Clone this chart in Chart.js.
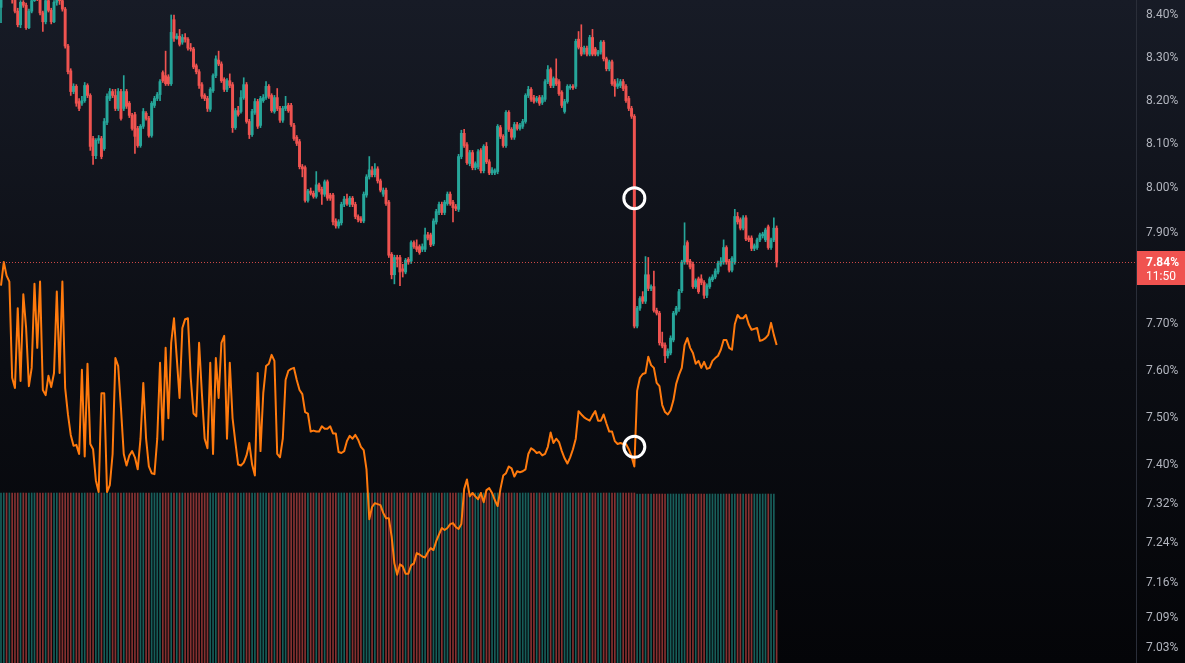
<!DOCTYPE html>
<html>
<head>
<meta charset="utf-8">
<script src="https://cdn.jsdelivr.net/npm/chart.js@4.4.1/dist/chart.umd.min.js"></script>
<style>
  html, body { margin: 0; padding: 0; background: #0c0e14; overflow: hidden; }
</style>
</head>
<body>
<canvas id="chart" width="1185" height="663"></canvas>
<script>
// Candles (yield, %), one per bar
const opens = [
  8.418, 8.441, 8.453, 8.444, 8.448, 8.439, 8.409, 8.377, 8.430, 8.423,
  8.370, 8.409, 8.434, 8.448, 8.441, 8.405, 8.384, 8.434, 8.411, 8.384,
  8.430, 8.439, 8.434, 8.414, 8.327, 8.269, 8.221, 8.233, 8.198, 8.194,
  8.200, 8.235, 8.212, 8.113, 8.074, 8.109, 8.113, 8.090, 8.150, 8.205,
  8.221, 8.212, 8.182, 8.221, 8.182, 8.221, 8.194, 8.166, 8.168, 8.136,
  8.097, 8.141, 8.171, 8.159, 8.120, 8.189, 8.205, 8.214, 8.265, 8.258,
  8.255, 8.239, 8.389, 8.345, 8.350, 8.336, 8.347, 8.343, 8.322, 8.320,
  8.281, 8.267, 8.237, 8.212, 8.205, 8.180, 8.223, 8.258, 8.294, 8.285,
  8.249, 8.226, 8.246, 8.237, 8.138, 8.177, 8.175, 8.207, 8.237, 8.152,
  8.122, 8.173, 8.198, 8.143, 8.200, 8.207, 8.233, 8.212, 8.175, 8.207,
  8.182, 8.155, 8.182, 8.189, 8.189, 8.143, 8.116, 8.106, 8.049, 8.047,
  7.973, 7.994, 7.989, 7.982, 8.008, 7.998, 7.987, 8.015, 7.985, 7.985,
  7.927, 7.916, 7.923, 7.964, 7.976, 7.964, 7.978, 7.964, 7.937, 7.932,
  7.927, 7.985, 8.026, 8.040, 8.031, 8.044, 8.017, 7.987, 7.996, 7.969,
  7.853, 7.808, 7.846, 7.846, 7.821, 7.814, 7.842, 7.838, 7.879, 7.870,
  7.870, 7.864, 7.864, 7.896, 7.896, 7.876, 7.925, 7.946, 7.964, 7.946,
  7.966, 7.987, 7.969, 7.959, 7.953, 8.072, 8.125, 8.099, 8.056, 8.081,
  8.047, 8.049, 8.086, 8.040, 8.095, 8.060, 8.035, 8.035, 8.038, 8.138,
  8.118, 8.097, 8.173, 8.134, 8.116, 8.145, 8.136, 8.141, 8.152, 8.212,
  8.226, 8.207, 8.200, 8.207, 8.196, 8.203, 8.244, 8.272, 8.235, 8.251,
  8.244, 8.219, 8.175, 8.198, 8.230, 8.233, 8.233, 8.343, 8.324, 8.313,
  8.322, 8.308, 8.347, 8.320, 8.308, 8.313, 8.336, 8.297, 8.274, 8.290,
  8.244, 8.233, 8.235, 8.244, 8.233, 8.205, 8.182, 8.164, 7.696, 7.735,
  7.760, 7.750, 7.808, 7.778, 7.782, 7.730, 7.724, 7.660, 7.655, 7.632,
  7.638, 7.666, 7.724, 7.733, 7.773, 7.836, 7.879, 7.838, 7.831, 7.782,
  7.799, 7.799, 7.791, 7.763, 7.782, 7.797, 7.803, 7.814, 7.831, 7.836,
  7.868, 7.838, 7.818, 7.836, 7.937, 7.930, 7.911, 7.934, 7.889, 7.889,
  7.866, 7.868, 7.885, 7.894, 7.885, 7.914, 7.868, 7.885, 7.911
];
const highs = [
  8.446, 8.462, 8.462, 8.457, 8.455, 8.444, 8.416, 8.434, 8.434, 8.428,
  8.414, 8.441, 8.455, 8.457, 8.446, 8.409, 8.441, 8.441, 8.416, 8.434,
  8.446, 8.444, 8.439, 8.418, 8.331, 8.274, 8.239, 8.237, 8.205, 8.210,
  8.242, 8.239, 8.216, 8.118, 8.113, 8.120, 8.118, 8.159, 8.216, 8.228,
  8.226, 8.226, 8.228, 8.226, 8.258, 8.226, 8.198, 8.171, 8.173, 8.141,
  8.145, 8.182, 8.175, 8.164, 8.198, 8.210, 8.219, 8.249, 8.269, 8.315,
  8.260, 8.400, 8.400, 8.356, 8.366, 8.354, 8.356, 8.347, 8.333, 8.324,
  8.285, 8.272, 8.242, 8.216, 8.210, 8.230, 8.262, 8.304, 8.315, 8.290,
  8.253, 8.251, 8.262, 8.242, 8.182, 8.187, 8.223, 8.253, 8.242, 8.157,
  8.180, 8.205, 8.203, 8.210, 8.214, 8.244, 8.237, 8.216, 8.212, 8.228,
  8.187, 8.187, 8.210, 8.194, 8.194, 8.148, 8.120, 8.111, 8.054, 8.051,
  7.998, 8.001, 7.994, 8.038, 8.012, 8.003, 8.019, 8.019, 7.989, 7.989,
  7.932, 7.930, 7.969, 7.982, 7.987, 7.982, 7.982, 7.969, 7.941, 7.937,
  7.992, 8.031, 8.072, 8.049, 8.056, 8.049, 8.021, 8.001, 8.001, 7.973,
  7.857, 7.851, 7.851, 7.851, 7.831, 7.844, 7.846, 7.883, 7.883, 7.885,
  7.874, 7.876, 7.911, 7.902, 7.900, 7.932, 7.953, 7.969, 7.969, 7.973,
  7.992, 7.992, 7.973, 7.964, 8.077, 8.132, 8.134, 8.104, 8.086, 8.086,
  8.060, 8.088, 8.090, 8.099, 8.104, 8.065, 8.047, 8.044, 8.145, 8.143,
  8.122, 8.177, 8.177, 8.138, 8.150, 8.150, 8.148, 8.157, 8.216, 8.233,
  8.230, 8.212, 8.210, 8.212, 8.212, 8.249, 8.281, 8.276, 8.255, 8.297,
  8.249, 8.223, 8.203, 8.237, 8.237, 8.237, 8.343, 8.361, 8.377, 8.327,
  8.327, 8.352, 8.366, 8.324, 8.317, 8.340, 8.340, 8.301, 8.294, 8.294,
  8.249, 8.251, 8.249, 8.249, 8.237, 8.210, 8.187, 8.168, 7.739, 7.760,
  7.771, 7.848, 7.846, 7.786, 7.816, 7.735, 7.728, 7.683, 7.660, 7.647,
  7.675, 7.728, 7.739, 7.776, 7.840, 7.923, 7.883, 7.842, 7.836, 7.799,
  7.803, 7.808, 7.795, 7.788, 7.803, 7.808, 7.821, 7.838, 7.846, 7.885,
  7.872, 7.842, 7.848, 7.953, 7.946, 7.934, 7.939, 7.939, 7.894, 7.894,
  7.876, 7.889, 7.900, 7.902, 7.911, 7.918, 7.889, 7.934, 7.916
];
const lows = [
  8.382, 8.437, 8.439, 8.437, 8.428, 8.405, 8.372, 8.370, 8.418, 8.366,
  8.368, 8.405, 8.432, 8.434, 8.400, 8.361, 8.379, 8.407, 8.379, 8.382,
  8.423, 8.425, 8.409, 8.322, 8.262, 8.212, 8.216, 8.187, 8.177, 8.189,
  8.196, 8.207, 8.086, 8.054, 8.067, 8.102, 8.067, 8.086, 8.145, 8.200,
  8.207, 8.177, 8.177, 8.155, 8.177, 8.182, 8.161, 8.132, 8.079, 8.093,
  8.093, 8.136, 8.155, 8.116, 8.116, 8.184, 8.200, 8.200, 8.242, 8.235,
  8.235, 8.235, 8.338, 8.343, 8.327, 8.331, 8.336, 8.317, 8.315, 8.274,
  8.262, 8.228, 8.205, 8.200, 8.175, 8.175, 8.219, 8.253, 8.281, 8.242,
  8.221, 8.221, 8.230, 8.127, 8.134, 8.164, 8.171, 8.203, 8.148, 8.113,
  8.118, 8.168, 8.136, 8.138, 8.196, 8.203, 8.205, 8.173, 8.171, 8.177,
  8.150, 8.150, 8.177, 8.173, 8.141, 8.109, 8.097, 8.044, 8.026, 7.969,
  7.969, 7.985, 7.978, 7.978, 7.992, 7.964, 7.982, 7.973, 7.973, 7.918,
  7.911, 7.911, 7.918, 7.959, 7.962, 7.959, 7.959, 7.932, 7.925, 7.923,
  7.923, 7.980, 8.021, 8.026, 8.026, 8.012, 7.992, 7.982, 7.962, 7.846,
  7.799, 7.788, 7.825, 7.784, 7.803, 7.810, 7.831, 7.833, 7.866, 7.859,
  7.853, 7.859, 7.859, 7.885, 7.870, 7.872, 7.920, 7.941, 7.941, 7.941,
  7.962, 7.962, 7.925, 7.950, 7.948, 8.067, 8.093, 8.054, 8.051, 8.042,
  8.042, 8.044, 8.035, 8.035, 8.056, 8.031, 8.031, 8.031, 8.033, 8.113,
  8.093, 8.093, 8.129, 8.111, 8.111, 8.132, 8.132, 8.136, 8.148, 8.207,
  8.198, 8.194, 8.196, 8.189, 8.191, 8.198, 8.239, 8.230, 8.230, 8.235,
  8.212, 8.184, 8.171, 8.194, 8.226, 8.226, 8.228, 8.320, 8.304, 8.308,
  8.304, 8.304, 8.304, 8.304, 8.304, 8.308, 8.292, 8.269, 8.269, 8.235,
  8.210, 8.228, 8.230, 8.223, 8.196, 8.177, 8.159, 7.692, 7.692, 7.730,
  7.745, 7.745, 7.773, 7.773, 7.726, 7.720, 7.655, 7.649, 7.617, 7.627,
  7.634, 7.662, 7.720, 7.728, 7.769, 7.831, 7.831, 7.821, 7.778, 7.778,
  7.767, 7.786, 7.756, 7.758, 7.778, 7.793, 7.799, 7.810, 7.827, 7.831,
  7.831, 7.814, 7.814, 7.831, 7.920, 7.907, 7.907, 7.883, 7.881, 7.861,
  7.861, 7.864, 7.881, 7.889, 7.881, 7.864, 7.864, 7.881, 7.825
];
const closes = [
  8.439, 8.453, 8.444, 8.448, 8.439, 8.409, 8.377, 8.430, 8.423, 8.370,
  8.409, 8.434, 8.448, 8.441, 8.405, 8.384, 8.434, 8.411, 8.384, 8.430,
  8.439, 8.434, 8.414, 8.327, 8.267, 8.221, 8.233, 8.194, 8.182, 8.200,
  8.235, 8.212, 8.095, 8.074, 8.109, 8.113, 8.072, 8.152, 8.210, 8.221,
  8.212, 8.182, 8.221, 8.159, 8.221, 8.187, 8.166, 8.136, 8.118, 8.097,
  8.141, 8.175, 8.159, 8.120, 8.194, 8.205, 8.214, 8.244, 8.246, 8.239,
  8.239, 8.359, 8.345, 8.350, 8.331, 8.347, 8.343, 8.322, 8.320, 8.278,
  8.267, 8.235, 8.210, 8.205, 8.182, 8.226, 8.258, 8.297, 8.285, 8.246,
  8.226, 8.246, 8.235, 8.138, 8.177, 8.168, 8.207, 8.237, 8.152, 8.122,
  8.175, 8.198, 8.141, 8.205, 8.207, 8.233, 8.210, 8.177, 8.207, 8.182,
  8.155, 8.182, 8.187, 8.177, 8.145, 8.113, 8.102, 8.049, 8.044, 7.973,
  7.994, 7.989, 7.982, 8.008, 7.996, 7.987, 8.015, 7.978, 7.978, 7.925,
  7.916, 7.925, 7.964, 7.976, 7.966, 7.978, 7.964, 7.937, 7.930, 7.927,
  7.987, 8.026, 8.042, 8.031, 8.044, 8.017, 7.996, 7.996, 7.966, 7.851,
  7.808, 7.846, 7.842, 7.814, 7.816, 7.840, 7.836, 7.879, 7.870, 7.864,
  7.857, 7.870, 7.896, 7.889, 7.874, 7.927, 7.948, 7.964, 7.946, 7.969,
  7.987, 7.966, 7.957, 7.955, 8.072, 8.125, 8.097, 8.058, 8.081, 8.047,
  8.056, 8.083, 8.040, 8.095, 8.060, 8.035, 8.042, 8.040, 8.141, 8.118,
  8.097, 8.173, 8.134, 8.116, 8.145, 8.136, 8.143, 8.152, 8.212, 8.226,
  8.203, 8.198, 8.205, 8.194, 8.207, 8.244, 8.272, 8.235, 8.251, 8.239,
  8.216, 8.189, 8.198, 8.233, 8.233, 8.230, 8.338, 8.324, 8.308, 8.322,
  8.308, 8.347, 8.308, 8.308, 8.313, 8.336, 8.297, 8.274, 8.290, 8.239,
  8.233, 8.239, 8.244, 8.228, 8.200, 8.182, 8.164, 7.696, 7.735, 7.756,
  7.750, 7.808, 7.778, 7.782, 7.730, 7.724, 7.660, 7.653, 7.632, 7.642,
  7.670, 7.724, 7.735, 7.771, 7.836, 7.872, 7.836, 7.825, 7.782, 7.795,
  7.771, 7.791, 7.763, 7.784, 7.799, 7.803, 7.816, 7.833, 7.838, 7.868,
  7.836, 7.818, 7.844, 7.937, 7.925, 7.911, 7.934, 7.887, 7.885, 7.866,
  7.872, 7.885, 7.896, 7.898, 7.907, 7.868, 7.885, 7.911, 7.836
];

// Orange comparison line (%), same bars
const compare = [
  7.784, 7.836, 7.806, 7.793, 7.585, 7.563, 7.735, 7.578, 7.765, 7.692,
  7.567, 7.606, 7.788, 7.649, 7.793, 7.559, 7.548, 7.589, 7.565, 7.595,
  7.771, 7.595, 7.793, 7.563, 7.507, 7.464, 7.441, 7.443, 7.424, 7.602,
  7.419, 7.615, 7.445, 7.434, 7.369, 7.345, 7.552, 7.552, 7.345, 7.359,
  7.424, 7.627, 7.610, 7.520, 7.424, 7.400, 7.421, 7.430, 7.417, 7.392,
  7.456, 7.574, 7.456, 7.398, 7.384, 7.382, 7.456, 7.617, 7.454, 7.649,
  7.499, 7.660, 7.713, 7.627, 7.542, 7.692, 7.711, 7.713, 7.585, 7.509,
  7.503, 7.660, 7.552, 7.456, 7.436, 7.617, 7.424, 7.627, 7.542, 7.660,
  7.675, 7.456, 7.617, 7.499, 7.449, 7.402, 7.400, 7.406, 7.421, 7.447,
  7.402, 7.379, 7.595, 7.430, 7.552, 7.610, 7.615, 7.634, 7.621, 7.424,
  7.417, 7.456, 7.580, 7.600, 7.604, 7.606, 7.580, 7.559, 7.550, 7.512,
  7.509, 7.471, 7.473, 7.471, 7.471, 7.482, 7.477, 7.477, 7.482, 7.467,
  7.467, 7.428, 7.426, 7.430, 7.451, 7.462, 7.456, 7.464, 7.454, 7.439,
  7.432, 7.392, 7.289, 7.314, 7.322, 7.320, 7.318, 7.302, 7.291, 7.291,
  7.254, 7.199, 7.176, 7.197, 7.193, 7.178, 7.178, 7.195, 7.199, 7.220,
  7.217, 7.213, 7.211, 7.222, 7.230, 7.226, 7.244, 7.258, 7.271, 7.267,
  7.271, 7.279, 7.281, 7.273, 7.269, 7.279, 7.351, 7.371, 7.336, 7.343,
  7.336, 7.330, 7.343, 7.324, 7.349, 7.353, 7.343, 7.328, 7.316, 7.351,
  7.379, 7.384, 7.398, 7.394, 7.377, 7.388, 7.386, 7.388, 7.392, 7.424,
  7.436, 7.432, 7.426, 7.428, 7.421, 7.424, 7.439, 7.469, 7.447, 7.456,
  7.449, 7.430, 7.415, 7.404, 7.417, 7.434, 7.456, 7.514, 7.507, 7.501,
  7.497, 7.494, 7.505, 7.514, 7.494, 7.494, 7.507, 7.488, 7.471, 7.471,
  7.451, 7.445, 7.447, 7.445, 7.445, 7.434, 7.419, 7.398, 7.557, 7.585,
  7.593, 7.595, 7.630, 7.612, 7.606, 7.574, 7.567, 7.527, 7.512, 7.507,
  7.516, 7.537, 7.572, 7.591, 7.606, 7.655, 7.670, 7.649, 7.638, 7.615,
  7.621, 7.606, 7.619, 7.604, 7.606, 7.621, 7.627, 7.632, 7.645, 7.666,
  7.666, 7.649, 7.645, 7.700, 7.720, 7.713, 7.713, 7.720, 7.700, 7.688,
  7.690, 7.692, 7.664, 7.666, 7.670, 7.677, 7.703, 7.677, 7.655
];

// Volume as drawn (pane is saturated except the live bar)
const volumes = [
  100, 100, 100, 100, 100, 100, 100, 100, 100, 100, 100, 100, 100, 100, 100, 100, 100, 100, 100, 100,
  100, 100, 100, 100, 100, 100, 100, 100, 100, 100, 100, 100, 100, 100, 100, 100, 100, 100, 100, 100,
  100, 100, 100, 100, 100, 100, 100, 100, 100, 100, 100, 100, 100, 100, 100, 100, 100, 100, 100, 100,
  100, 100, 100, 100, 100, 100, 100, 100, 100, 100, 100, 100, 100, 100, 100, 100, 100, 100, 100, 100,
  100, 100, 100, 100, 100, 100, 100, 100, 100, 100, 100, 100, 100, 100, 100, 100, 100, 100, 100, 100,
  100, 100, 100, 100, 100, 100, 100, 100, 100, 100, 100, 100, 100, 100, 100, 100, 100, 100, 100, 100,
  100, 100, 100, 100, 100, 100, 100, 100, 100, 100, 100, 100, 100, 100, 100, 100, 100, 100, 100, 100,
  100, 100, 100, 100, 100, 100, 100, 100, 100, 100, 100, 100, 100, 100, 100, 100, 100, 100, 100, 100,
  100, 100, 100, 100, 100, 100, 100, 100, 100, 100, 100, 100, 100, 100, 100, 100, 100, 100, 100, 100,
  100, 100, 100, 100, 100, 100, 100, 100, 100, 100, 100, 100, 100, 100, 100, 100, 100, 100, 100, 100,
  100, 100, 100, 100, 100, 100, 100, 100, 100, 100, 100, 100, 100, 100, 100, 100, 100, 100, 100, 100,
  100, 100, 100, 100, 100, 100, 100, 100, 99.4, 99.4, 99.4, 99.4, 99.4, 99.4, 99.4, 99.4, 99.4, 99.4, 99.4, 99.4,
  99.4, 99.4, 99.4, 99.4, 99.4, 99.4, 99.4, 99.4, 99.4, 99.4, 99.4, 99.4, 99.4, 99.4, 99.4, 99.4, 99.4, 99.4, 99.4, 99.4,
  99.4, 99.4, 99.4, 99.4, 99.4, 99.4, 99.4, 99.4, 99.4, 99.4, 99.4, 99.4, 99.4, 99.4, 99.4, 99.4, 99.4, 99.4, 31
];

// Right axis labels
const tickValues = [8.40, 8.30, 8.20, 8.10, 8.00, 7.90, 7.70, 7.60, 7.50, 7.40, 7.32, 7.24, 7.16, 7.09, 7.03];

// Highlight circles (bar index, value)
const markerBars = [227, 227];
const markerValues = [7.978, 7.439];

const barCountdown = '11:50';

const UP = '#26a69a';
const DOWN = '#ef5350';

function candleColors() {
    return closes.map((c, i) => c >= opens[i] ? UP : DOWN);
}

function volumeColors() {
    return closes.map((c, i) => c >= opens[i] ? 'rgba(38,166,154,0.55)' : 'rgba(239,83,80,0.55)');
}

// Dark TradingView-like gradient behind everything
const backgroundPlugin = {
    id: 'background',
    beforeDraw(chart) {
        const ctx = chart.ctx;
        const g = ctx.createLinearGradient(0, 0, 0, chart.height);
        g.addColorStop(0, '#171b26');
        g.addColorStop(0.55, '#0b0d13');
        g.addColorStop(1, '#040508');
        ctx.save();
        ctx.fillStyle = g;
        ctx.fillRect(0, 0, chart.width, chart.height);
        ctx.restore();
    }
};

// Dotted last-price line and the red price tag on the axis
const lastPricePlugin = {
    id: 'lastPrice',
    afterDatasetsDraw(chart) {
        const ctx = chart.ctx;
        const area = chart.chartArea;
        const last = closes[closes.length - 1];
        const y = Math.round(chart.scales.y.getPixelForValue(last)) + 0.5;
        ctx.save();
        ctx.strokeStyle = 'rgba(239,83,80,0.85)';
        ctx.lineWidth = 1;
        ctx.setLineDash([1, 2]);
        ctx.beginPath();
        ctx.moveTo(area.left, y);
        ctx.lineTo(area.right, y);
        ctx.stroke();
        ctx.restore();
    },
    afterDraw(chart) {
        const ctx = chart.ctx;
        const area = chart.chartArea;
        const last = closes[closes.length - 1];
        const y = Math.round(chart.scales.y.getPixelForValue(last));
        ctx.save();
        ctx.fillStyle = '#f05350';
        ctx.fillRect(area.right + 1, y - 11, chart.width - area.right - 1, 34);
        ctx.fillStyle = '#ffffff';
        ctx.textBaseline = 'middle';
        ctx.textAlign = 'left';
        ctx.font = 'bold 12px Roboto';
        ctx.fillText(last.toFixed(2) + '%', area.right + 10, y + 1);
        ctx.font = '12px Roboto';
        ctx.fillText(barCountdown, area.right + 10, y + 15);
        ctx.restore();
    }
};

function buildChart() {
    const ctx = document.getElementById('chart').getContext('2d');
    const colors = candleColors();

    new Chart(ctx, {
        type: 'bar',
        data: {
            datasets: [
                {
                    type: 'line',
                    data: markerBars.map((b, i) => ({ x: b, y: markerValues[i] })),
                    showLine: false,
                    pointRadius: 10.5,
                    pointBorderWidth: 3,
                    pointBorderColor: '#ffffff',
                    pointBackgroundColor: 'rgba(0,0,0,0)',
                    yAxisID: 'y',
                    order: 0
                },
                {
                    data: opens.map((o, i) => ({ x: i, y: [o, closes[i]] })),
                    backgroundColor: colors,
                    barThickness: 2.3,
                    minBarLength: 1,
                    grouped: false,
                    yAxisID: 'y',
                    order: 1
                },
                {
                    data: lows.map((l, i) => ({ x: i, y: [l, highs[i]] })),
                    backgroundColor: colors,
                    barThickness: 1,
                    grouped: false,
                    yAxisID: 'y',
                    order: 2
                },
                {
                    type: 'line',
                    data: compare.map((v, i) => ({ x: i, y: v })),
                    borderColor: '#ff7a0d',
                    borderWidth: 2,
                    pointRadius: 0,
                    tension: 0,
                    borderJoinStyle: 'round',
                    yAxisID: 'y',
                    order: 3
                },
                {
                    data: volumes.map((v, i) => ({ x: i, y: v })),
                    backgroundColor: volumeColors(),
                    barThickness: 1,
                    grouped: false,
                    yAxisID: 'yVol',
                    order: 4
                }
            ]
        },
        options: {
            responsive: false,
            devicePixelRatio: 1,
            animation: false,
            layout: { padding: 0, autoPadding: false },
            plugins: {
                legend: { display: false },
                tooltip: { enabled: false }
            },
            scales: {
                x: {
                    type: 'linear',
                    display: false,
                    offset: false,
                    min: -0.358,
                    max: 406.8
                },
                y: {
                    type: 'logarithmic',
                    position: 'right',
                    min: 7.0,
                    max: 8.4355,
                    grid: { display: false, drawTicks: false },
                    border: { display: true, color: '#2a2e39' },
                    ticks: {
                        autoSkip: false,
                        padding: 10,
                        color: '#b2b5be',
                        font: { family: 'Roboto', size: 12 },
                        callback: v => Number(v).toFixed(2) + '%'
                    },
                    afterBuildTicks: scale => {
                        scale.ticks = tickValues.map(v => ({ value: v }));
                    },
                    afterFit: scale => {
                        scale.width = 49;
                        scale.paddingTop = 0;
                        scale.paddingBottom = 0;
                    }
                },
                yVol: {
                    type: 'linear',
                    display: false,
                    min: 0,
                    max: 390
                }
            }
        },
        plugins: [backgroundPlugin, lastPricePlugin]
    });
}

document.addEventListener('DOMContentLoaded', buildChart);
</script>
</body>
</html>
